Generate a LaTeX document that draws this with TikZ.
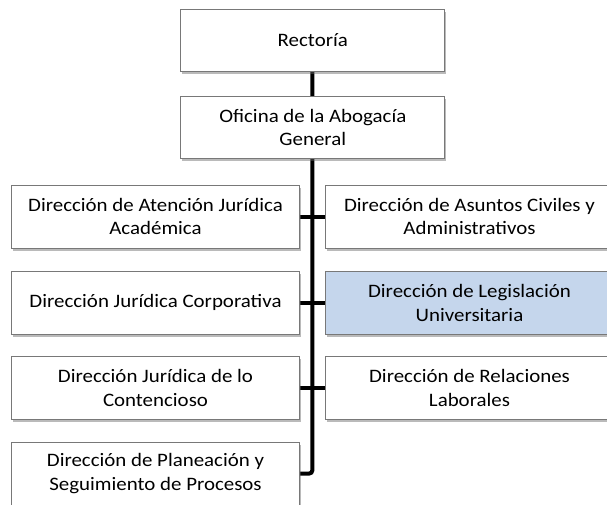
\documentclass[tikz,border=0pt]{standalone}
\usepackage{fontspec}
\setmainfont{Carlito}[FakeStretch=1.1]
\usetikzlibrary{shadows,backgrounds}
\definecolor{boxline}{RGB}{120,120,120}
\definecolor{hilite}{RGB}{197,214,236}
\tikzset{
  orgbox/.style={draw=boxline, line width=0.8pt, fill=white, inner sep=0pt,
    align=center, font=\fontsize{19}{23.3}\selectfont,
    drop shadow={shadow xshift=1.5pt, shadow yshift=-2.5pt, opacity=0.45, fill=black!60}},
  topbox/.style={orgbox, minimum width=264pt, minimum height=62pt},
  sidebox/.style={orgbox, minimum width=287.6pt, minimum height=63pt},
  conn/.style={line width=4pt, black},
}
\begin{document}
\begin{tikzpicture}[x=1pt,y=1pt]
\useasboundingbox (0,0) rectangle (607,-504);
\node[topbox] (rect) at (312.8,-40.5) {Rectoría};
\node[topbox] (ofi) at (312.8,-127.5) {Oficina de la Abogacía\\General};
\node[sidebox] (l1) at (155.5,-216.5) {Dirección de Atención Jurídica\\Académica};
\node[sidebox] (r1) at (469.5,-216.5) {Dirección de Asuntos Civiles y\\Administrativos};
\node[sidebox] (l2) at (155.5,-302.5) {Dirección Jurídica Corporativa};
\node[sidebox, fill=hilite] (r2) at (469.5,-303) {Dirección de Legislación\\Universitaria};
\node[sidebox] (l3) at (155.5,-388) {Dirección Jurídica de lo\\Contencioso};
\node[sidebox] (r3) at (469.5,-388) {Dirección de Relaciones\\Laborales};
\node[sidebox] (l4) at (155.5,-473.5) {Dirección de Planeación y\\Seguimiento de Procesos};
\begin{scope}[on background layer]
\draw[conn, rounded corners=3pt] (312.3,-71) -- (312.3,-473.5) -- (l4.east);
\draw[conn] (l1.east) -- (r1.west);
\draw[conn] (l2.east) -- (r2.west |- l2.east);
\draw[conn] (l3.east) -- (r3.west);
\end{scope}
\end{tikzpicture}
\end{document}
